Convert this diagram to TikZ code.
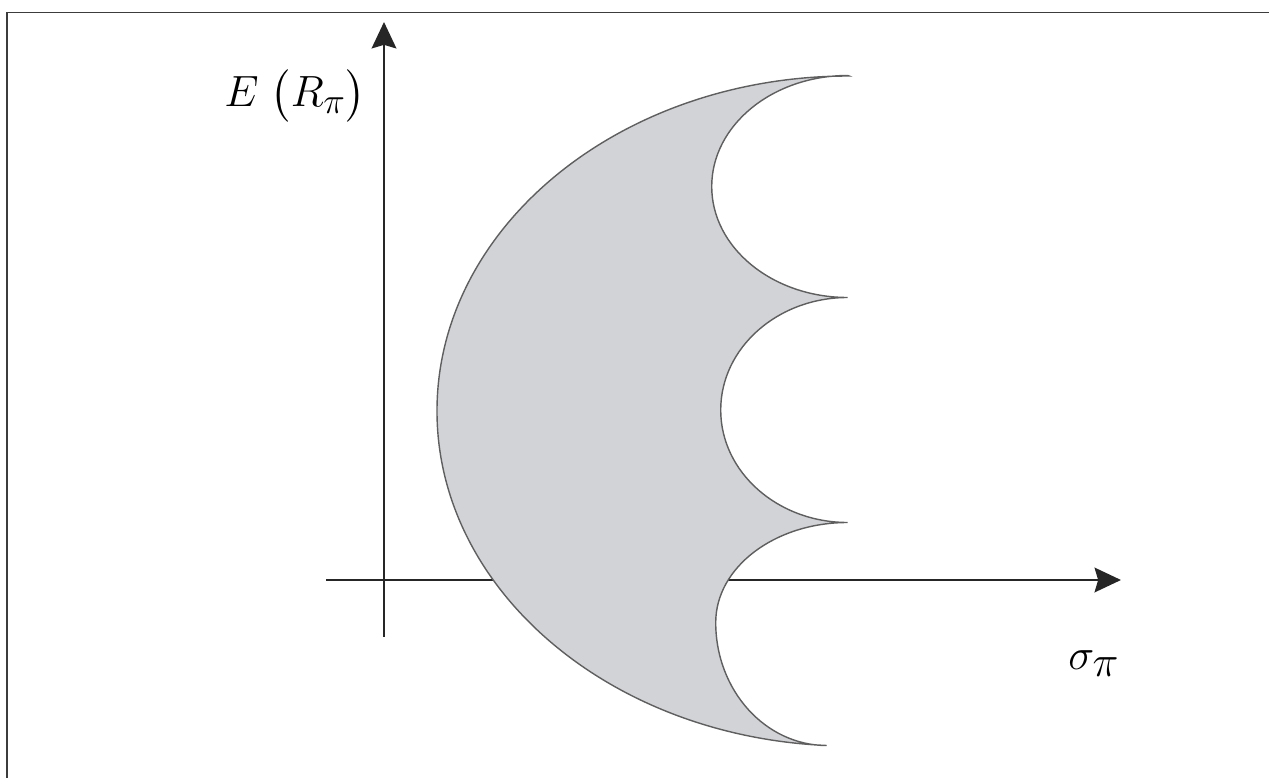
\documentclass[tikz,border=0pt]{standalone}
\usepackage{amsmath}
\usetikzlibrary{arrows.meta}
\definecolor{regiongray}{RGB}{210,211,215}
\definecolor{edgegray}{RGB}{95,95,95}
\definecolor{framegray}{RGB}{60,60,60}

\begin{document}
\begin{tikzpicture}[
    scale=0.2,
    axis/.style={draw=black!85,line width=1.5pt,
                 -{Stealth[length=15pt,width=14pt,inset=2pt]}},
    region/.style={fill=regiongray,draw=edgegray,line width=0.8pt},
    frameline/.style={draw=framegray,line width=1.1pt},
    lbl/.style={inner sep=0pt,anchor=base west}
  ]
    \useasboundingbox (0,0) rectangle (126.9,77.8);
    % Frame (top and left only)
    \coordinate (fb) at (0.7,0);
    \coordinate (ftr) at (126.9,76.55);
    \draw[frameline] (fb) |- (ftr);

    % Axes
    \coordinate (ybot) at (38.4,14.1);
    \coordinate (ytop) at (38.4,75.6);
    \coordinate (xleft) at (32.6,19.8);
    \coordinate (xright) at (112.1,19.8);
    \draw[axis] (ybot) -- (ytop);
    \draw[axis] (xleft) -- (xright);

    % Feasible region: outer half-ellipse and three scallops
    \coordinate (top) at (84.9,70.2);
    \draw[region] (top)
        arc[start angle=90,end angle=266.9,x radius=41.2,y radius=33.5]
        arc[start angle=270,end angle=180,x radius=11.1,y radius=12.3]
        arc[start angle=180,end angle=90,x radius=13.2,y radius=10.0]
        arc[start angle=270,end angle=90,x radius=12.7,y radius=11.25]
        arc[start angle=270,end angle=90,x radius=13.6,y radius=11.1]
        -- cycle;

    % Labels
    \node[lbl,font=\fontsize{31}{36}\selectfont] (ylab) at (22.4,67.1)
        {$E\;\bigl(R_{\pi}\bigr)$};
    \node[lbl,font=\fontsize{36}{42}\selectfont] (xlab) at (106.8,10.8)
        {$\sigma_{\pi}$};
\end{tikzpicture}
\end{document}
